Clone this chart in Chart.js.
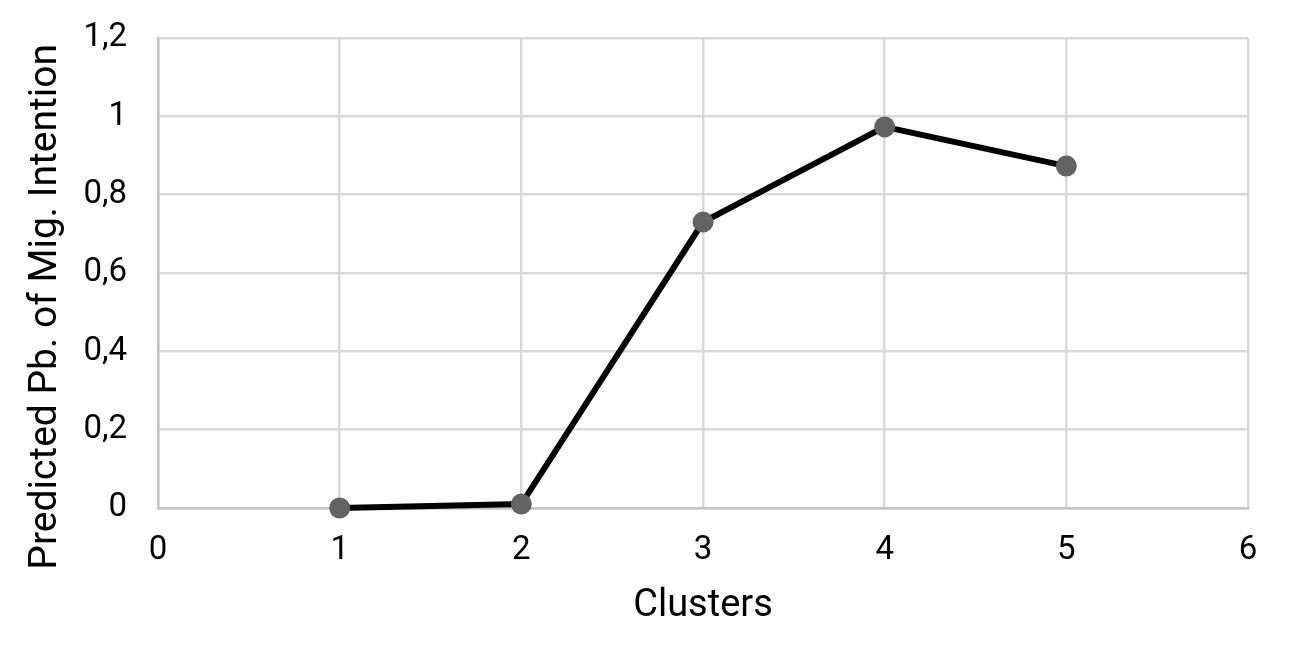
<!DOCTYPE html>
<html>
<head>
<meta charset="utf-8">
<script src="https://cdn.jsdelivr.net/npm/chart.js@4"></script>
<style>
  html, body { margin: 0; padding: 0; background: #fff; }
  #wrap { width: 1289px; height: 647px; }
</style>
</head>
<body>
<div id="wrap"><canvas id="chartOne" width="1289" height="647"></canvas></div>
<script>
// data
const clusters = [1, 2, 3, 4, 5];
const predicted = [0, 0.01, 0.73, 0.973, 0.873];
const xTicks = [0, 1, 2, 3, 4, 5, 6];
const yTicks = [0, 0.2, 0.4, 0.6, 0.8, 1, 1.2];

const fmt = v => String(Math.round(v * 10) / 10).replace('.', ',');

const ctx = document.getElementById('chartOne').getContext('2d');

new Chart(ctx, {
    type: 'scatter',
    data: {
        datasets: [{
            label: 'Predicted',
            data: clusters.map((c, i) => ({x: c, y: predicted[i]})),
            showLine: true,
            borderColor: '#000000',
            borderWidth: 6,
            pointRadius: 10.5,
            pointHoverRadius: 10.5,
            pointBackgroundColor: '#636363',
            pointBorderWidth: 0,
            clip: false
        }]
    },
    options: {
        responsive: false,
        animation: false,
        layout: { padding: { top: 38, right: 41, left: 0, bottom: 0 } },
        plugins: { legend: { display: false }, tooltip: { enabled: false } },
        scales: {
            x: {
                type: 'linear',
                min: 0, max: 6,
                afterBuildTicks: s => { s.ticks = xTicks.map(v => ({value: v})); },
                afterFit: s => { s.height = 139; s.paddingLeft = 0; s.paddingRight = 0; },
                grid: { color: '#d9d9d9', lineWidth: 2.5, drawTicks: false },
                border: { color: '#c4c4c4', width: 2.5 },
                ticks: { color: '#000', font: { family: 'Roboto', size: 33 }, padding: 23, callback: v => fmt(v) },
                title: { display: true, text: 'Clusters', color: '#000',
                         font: { family: 'Roboto', size: 38 }, padding: { top: 0, bottom: 18 } }
            },
            y: {
                min: 0, max: 1.2,
                afterBuildTicks: s => { s.ticks = yTicks.map(v => ({value: v})); },
                afterFit: s => { s.width = 158; s.paddingTop = 0; s.paddingBottom = 0; },
                grid: { color: '#d9d9d9', lineWidth: 2.5, drawTicks: false },
                border: { color: '#c4c4c4', width: 2.5 },
                ticks: { color: '#000', font: { family: 'Roboto', size: 33 }, padding: 31, callback: v => fmt(v) },
                // trailing spaces push the rotated title down, as in the picture
                title: { display: true, text: 'Predicted Pb. of Mig. Intention\u00A0\u00A0\u00A0\u00A0\u00A0\u00A0\u00A0', color: '#000',
                         font: { family: 'Roboto', size: 39 }, padding: { top: 23, bottom: 0 } }
            }
        }
    }
});
</script>
</body>
</html>
